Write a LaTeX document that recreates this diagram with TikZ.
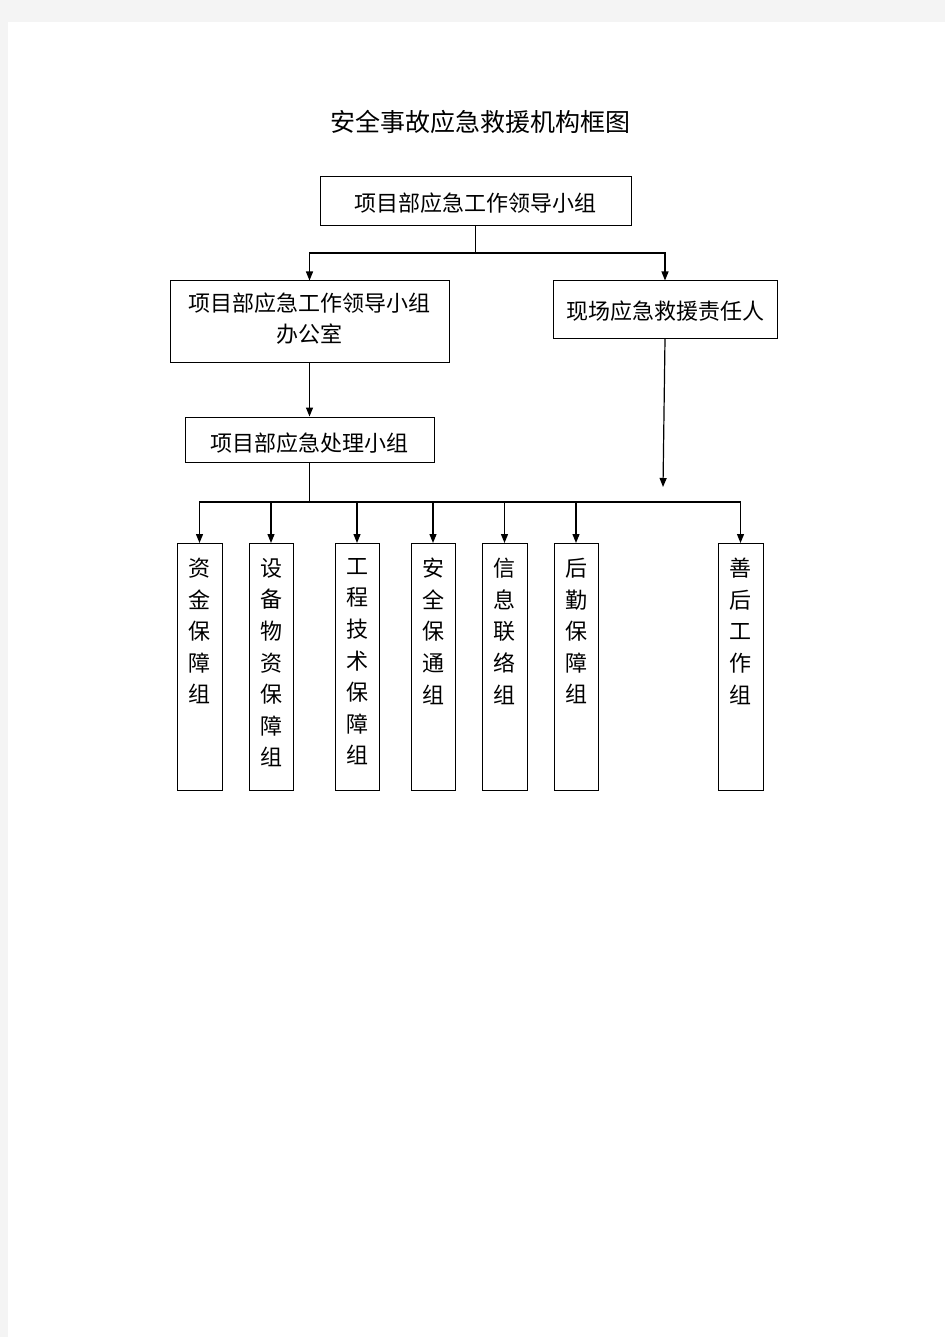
\documentclass[tikz,border=0pt]{standalone}
\usepackage{fontspec}
\newfontfamily\cjk{Noto Sans CJK SC}
\usetikzlibrary{arrows.meta}
\definecolor{pagebg}{HTML}{F4F4F4}
\begin{document}
\begin{tikzpicture}[x=1pt,y=-1pt,
  box/.style={draw, line width=1pt, rectangle, inner sep=0pt},
  lbl/.style={font=\cjk\fontsize{22}{31}\selectfont, align=center, inner sep=0pt},
  vlbl/.style={font=\cjk\fontsize{22}{31.6}\selectfont, align=center, inner sep=0pt, anchor=north},
  arr/.style={line width=1.2pt, -{Triangle[length=9pt,width=7pt]}},
  ln/.style={line width=1.2pt}]
\useasboundingbox (0,0) rectangle (945,1337);
\fill[pagebg] (0,0) rectangle (945,1337);
\fill[white] (8,22) rectangle (945,1337);

\node[font=\cjk\fontsize{25}{30}\selectfont, inner sep=0pt] (title) at (480,122) {安全事故应急救援机构框图};

\node[box, minimum width=311pt, minimum height=49pt] (top) at (475.5,201.5) {};
\node[lbl] (topt) at (475.5,203.5) {项目部应急工作领导小组};
\node[box, minimum width=279pt, minimum height=81pt] (office) at (309.5,321.5) {};
\node[lbl] (officet) at (309.5,319) {项目部应急工作领导小组\\办公室};
\node[box, minimum width=224pt, minimum height=57pt] (site) at (665,309.5) {};
\node[lbl] (sitet) at (665,311.5) {现场应急救援责任人};
\node[box, minimum width=249pt, minimum height=45pt] (proc) at (309.5,439.5) {};
\node[lbl] (proct) at (309.5,443.5) {项目部应急处理小组};

\foreach \n/\x/\w/\t in {g1/199.5/45/{资\\金\\保\\障\\组},
                         g2/271/44/{设\\备\\物\\资\\保\\障\\组},
                         g3/357/44/{工\\程\\技\\术\\保\\障\\组},
                         g4/433/44/{安\\全\\保\\通\\组},
                         g5/504.5/45/{信\\息\\联\\络\\组},
                         g6/576/44/{后\\勤\\保\\障\\组},
                         g7/740.5/45/{善\\后\\工\\作\\组}}{
  \node[box, minimum width=\w pt, minimum height=247pt, anchor=north] (\n) at (\x,543) {};
  \node[vlbl] (\n t) at (\n.north |- 0,558) {\t};
}

\coordinate (j1) at (top.south |- 0,253);
\draw[ln] (top.south) -- (j1);
\draw[arr] (j1) -| (office.north);
\draw[arr] (j1) -| (site.north);
\draw[arr] (office.south) -- (proc.north);
\coordinate (siteend) at (663,487);
\draw[arr] (site.south) -- (siteend);
\coordinate (j2) at (proc.south |- 0,502);
\draw[ln] (proc.south) -- (j2);
\foreach \n in {g1,g2,g3,g4,g5,g6,g7}{
  \draw[arr] (j2) -| (\n.north);
}
\end{tikzpicture}
\end{document}
